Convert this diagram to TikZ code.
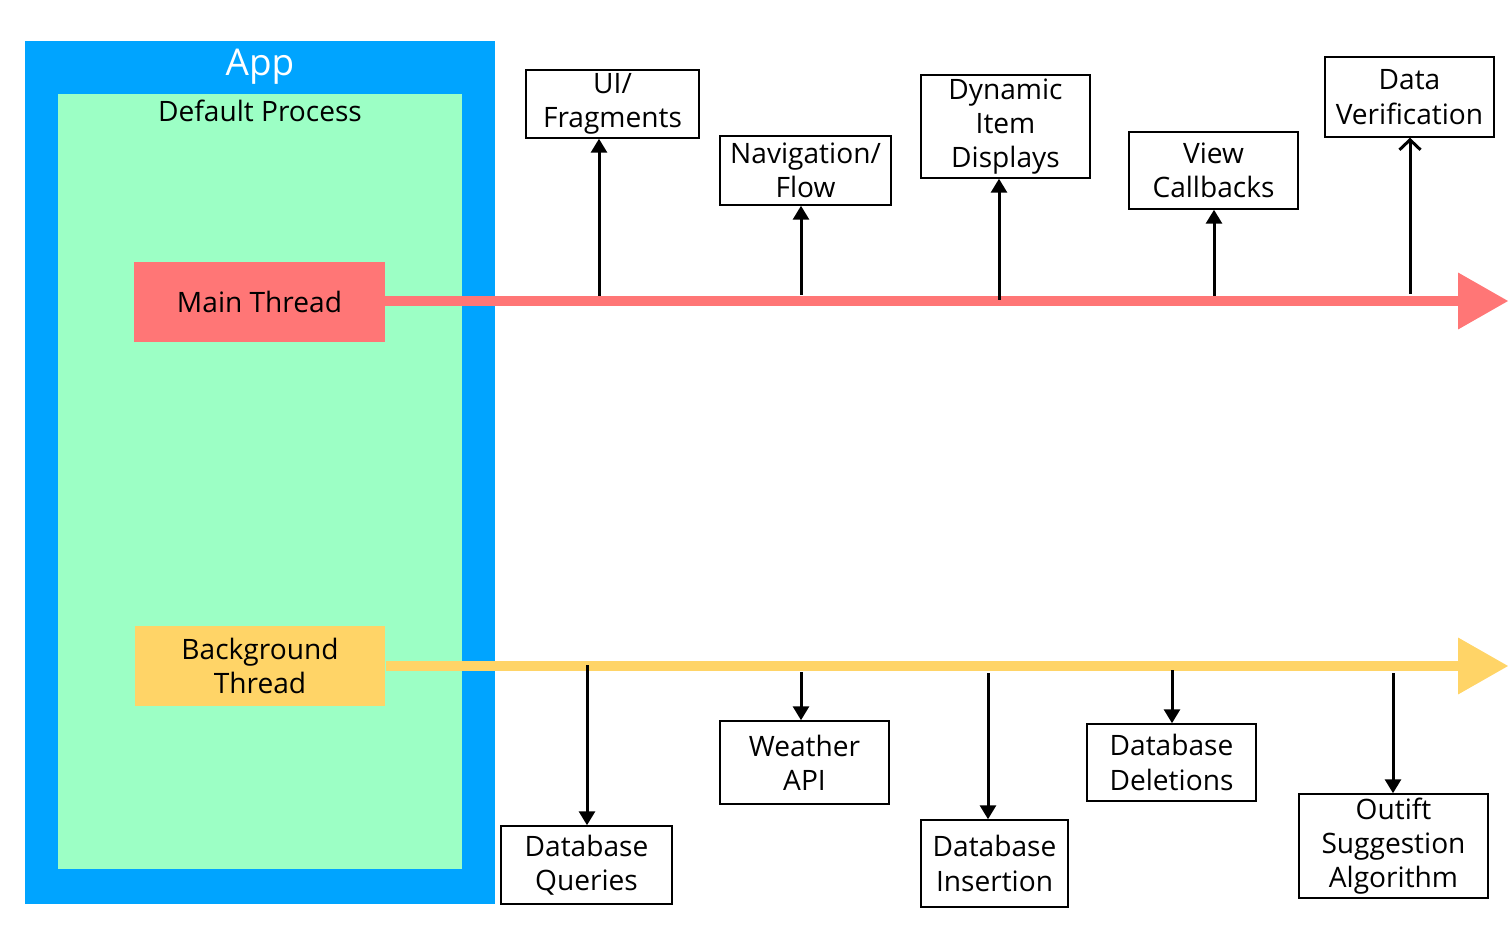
\documentclass[tikz,border=0pt]{standalone}
\usepackage{fontspec}
\setmainfont{Open Sans}
\usetikzlibrary{arrows.meta}
\definecolor{appblue}{HTML}{00A4FF}
\definecolor{procgreen}{HTML}{9CFFC5}
\definecolor{mainred}{HTML}{FF7676}
\definecolor{bgyellow}{HTML}{FFD467}
\begin{document}
\begin{tikzpicture}[x=0.02cm, y=-0.02cm,
    every node/.style={font=\fontsize{16}{19.5}\selectfont, align=center},
    task/.style={draw=black, line width=0.85pt, fill=white, inner sep=0pt},
    thread/.style={inner sep=0pt, minimum width=5.02cm, minimum height=1.6cm},
    timeline/.style={line width=0.2cm, -{Triangle[length=1cm, width=1.14cm, line width=0pt]}},
    call/.style={line width=0.06cm, -{Triangle[length=0.28cm, width=0.32cm]}}]
    \useasboundingbox (0,0) rectangle (1508,945);
    % app and process
    \fill[appblue] (25,41) rectangle (495,904);
    \fill[procgreen] (58,94) rectangle (462,869);
    \node[text=white, font=\fontsize{21}{25}\selectfont] (app) at (260,67) {App};
    \node (proc) at (260,111) {Default Process};
    \node[thread, fill=mainred] (main) at (259.5,302) {Main Thread};
    \node[thread, fill=bgyellow] (bg) at (260,666) {Background\\Thread};
    \draw[timeline, mainred] (main.east |- 0,301) -- (1508,301);
    \draw[timeline, bgyellow] (bg.east |- 0,666) -- (1508,666);
    % main thread tasks
    \node[task, minimum width=3.46cm, minimum height=1.36cm] (ui) at (612.5,104) {UI/\\Fragments};
    \node[task, minimum width=3.42cm, minimum height=1.38cm] (nav) at (805.5,170.5) {Navigation/\\Flow};
    \node[task, minimum width=3.38cm, minimum height=2.06cm] (dyn) at (1005.5,126.5) {Dynamic\\Item\\Displays};
    \node[task, minimum width=3.38cm, minimum height=1.54cm] (view) at (1213.5,170.5) {View\\Callbacks};
    \node[task, minimum width=3.38cm, minimum height=1.6cm] (verify) at (1409.5,97) {Data\\Verification};
    \coordinate (m1) at (599,296);
    \coordinate (m2) at (801,295);
    \coordinate (m3) at (999,300);
    \coordinate (m4) at (1214,296);
    \coordinate (m5) at (1410,294);
    \draw[call] (m1) -- (m1 |- ui.south);
    \draw[call] (m2) -- (m2 |- nav.south);
    \draw[call] (m3) -- (m3 |- dyn.south);
    \draw[call] (m4) -- (m4 |- view.south);
    \draw[line width=0.06cm, -{Straight Barb[length=0.2cm, width=0.42cm]}] (m5) -- (m5 |- verify.south);
    % background thread tasks
    \node[task, minimum width=3.42cm, minimum height=1.56cm] (query) at (586.5,865) {Database\\Queries};
    \node[task, minimum width=3.38cm, minimum height=1.66cm] (api) at (804.5,762.5) {Weather\\API};
    \node[task, minimum width=2.94cm, minimum height=1.74cm] (insert) at (994.5,863.5) {Database\\Insertion};
    \node[task, minimum width=3.38cm, minimum height=1.54cm] (delete) at (1171.5,762.5) {Database\\Deletions};
    \node[task, minimum width=3.78cm, minimum height=2.08cm] (algo) at (1393.5,846) {Outift\\Suggestion\\Algorithm};
    \coordinate (b1) at (587,665);
    \coordinate (b2) at (801,672);
    \coordinate (b3) at (988,673);
    \coordinate (b4) at (1172,670);
    \coordinate (b5) at (1393,673);
    \draw[call] (b1) -- (b1 |- query.north);
    \draw[call] (b2) -- (b2 |- api.north);
    \draw[call] (b3) -- (b3 |- insert.north);
    \draw[call] (b4) -- (b4 |- delete.north);
    \draw[call] (b5) -- (b5 |- algo.north);
\end{tikzpicture}
\end{document}
